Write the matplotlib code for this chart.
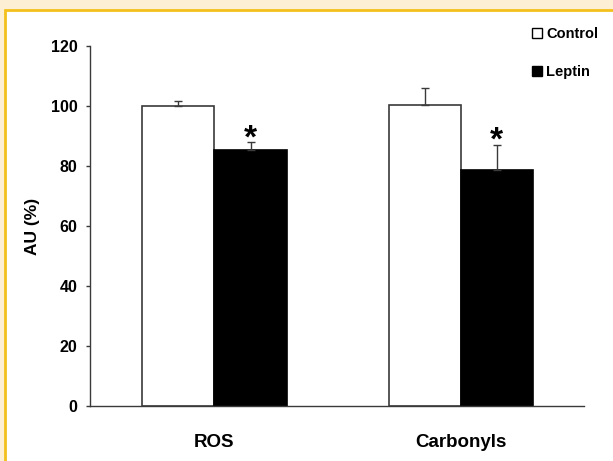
import matplotlib.pyplot as plt
from matplotlib.lines import Line2D
from matplotlib.patches import Rectangle
import numpy as np

# ------------------------------------------------
# Data
# ------------------------------------------------
groups = ['ROS', 'Carbonyls']
control = [100.0, 100.2]
control_err = [1.5, 5.7]
leptin = [85.2, 78.8]
leptin_err = [2.7, 8.3]
significant = [True, True]

plt.rcParams['font.family'] = ['Liberation Sans', 'DejaVu Sans']
plt.rcParams['font.weight'] = 'bold'

fig = plt.figure(figsize=(6.13, 4.61), dpi=100)
fig.patch.set_facecolor('#fdefd3')

# inner white panel with the gold frame (cropped on right and bottom)
fig.patches.append(Rectangle((5 / 613, -0.1), 1.2, 1 - 10 / 461 + 0.1,
                             transform=fig.transFigure, facecolor='white',
                             edgecolor='#f4c01c', linewidth=2.0, zorder=-5))

ax = fig.add_axes([90 / 613, 1 - 406 / 461, 494 / 613, 360 / 461])
ax.set_zorder(2)
ax.set_facecolor('none')

x = np.arange(len(groups))
width = 0.293
edge = '#3a3a3a'

ax.bar(x - width / 2, control, width, color='white', edgecolor=edge, linewidth=1.2, zorder=2)
ax.bar(x + width / 2, leptin, width, color='black', edgecolor='black', linewidth=1.2, zorder=2)
ax.errorbar(x - width / 2, control, yerr=[np.zeros(len(x)), control_err], fmt='none',
            ecolor=edge, elinewidth=1.0, capsize=3, capthick=1.0, zorder=3)
ax.errorbar(x + width / 2, leptin, yerr=[np.zeros(len(x)), leptin_err], fmt='none',
            ecolor=edge, elinewidth=1.0, capsize=3, capthick=1.0, zorder=3)

# significance stars sit just above the Leptin error caps
for xi, m, e, sig in zip(x, leptin, leptin_err, significant):
    if sig:
        ax.text(xi + width / 2, m + e - 4.0, '*', ha='center', va='bottom',
                fontsize=24, fontweight='bold')

ax.set_xlim(-0.505, 1.5)
ax.set_ylim(0, 120)
ax.set_yticks(np.arange(0, 121, 20))
ax.set_xticks(x)
ax.set_xticklabels(groups, fontsize=13.5, fontweight='bold')
ax.tick_params(axis='x', length=0, pad=20)
ax.tick_params(axis='y', length=3, width=1.0, color=edge, pad=6, labelsize=11.5)
for lab in ax.get_yticklabels():
    lab.set_fontweight('bold')

for s in ['top', 'right']:
    ax.spines[s].set_visible(False)
for s in ['left', 'bottom']:
    ax.spines[s].set_color(edge)
    ax.spines[s].set_linewidth(1.0)

ax.set_ylabel('AU (%)', fontsize=12.5, fontweight='bold', labelpad=8)

handles = [Line2D([], [], marker='s', linestyle='none', markersize=6.5,
                  markerfacecolor='white', markeredgecolor='black', markeredgewidth=1.0),
           Line2D([], [], marker='s', linestyle='none', markersize=6.5,
                  markerfacecolor='black', markeredgecolor='black')]
fig.legend(handles, ['Control', 'Leptin'], loc='upper left',
           bbox_to_anchor=(533 / 613, 1 - 27 / 461), frameon=False,
           handlelength=0.6, handletextpad=0.3, labelspacing=1.65,
           borderaxespad=0, borderpad=0, prop={'size': 10.5, 'weight': 'bold'})

fig.savefig('out.png', dpi=100, facecolor=fig.get_facecolor())
